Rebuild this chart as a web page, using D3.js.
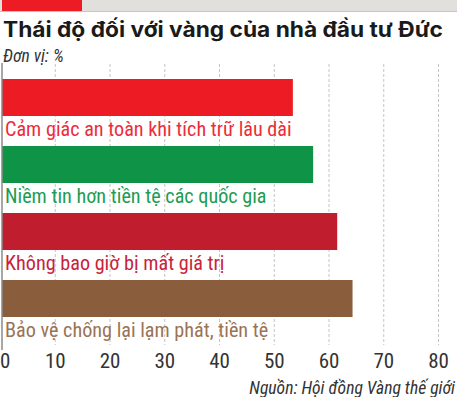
<!DOCTYPE html>
<html>
<head>
<meta charset="utf-8">
<script src="https://cdn.jsdelivr.net/npm/d3@7"></script>
<style>
  body { margin: 0; background: #fff; }
  svg { display: block; }
</style>
</head>
<body>
<svg id="chart" width="457" height="397"></svg>
<script>
// data
var categories = [
    "Cảm giác an toàn khi tích trữ lâu dài",
    "Niềm tin hơn tiền tệ các quốc gia",
    "Không bao giờ bị mất giá trị",
    "Bảo vệ chống lại lạm phát, tiền tệ"
];
var values = [53.4, 57.1, 61.5, 64.3];
var barColors = ["#ed1c24", "#0f9447", "#c01e2f", "#8a5e3c"];
var labelColors = ["#ee2c3a", "#1e9c53", "#c8233a", "#9a7356"];
var ticks = [0, 10, 20, 30, 40, 50, 60, 70, 80];

var title = "Thái độ đối với vàng của nhà đầu tư Đức",
    unit = "Đơn vị: %",
    source = "Nguồn: Hội đồng Vàng thế giới";

var narrow = "'Liberation Sans Narrow', 'Roboto Condensed', 'Liberation Sans', sans-serif";

var svg = d3.select("#chart");

// top strip
svg.append("rect").attr("x", 0).attr("y", 0).attr("width", 457).attr("height", 12).attr("fill", "#e2e0dd");
svg.append("rect").attr("x", 0).attr("y", 11).attr("width", 457).attr("height", 1).attr("fill", "#c9c6c2");
svg.append("rect").attr("x", 2).attr("y", 0).attr("width", 80).attr("height", 11).attr("fill", "#ed1c24");

svg.append("text")
    .attr("x", 3).attr("y", 37)
    .style("font-family", "Inter, Roboto, 'Liberation Sans', sans-serif")
    .style("font-weight", "bold")
    .style("font-size", "21px")
    .attr("textLength", 440)
    .attr("lengthAdjust", "spacingAndGlyphs")
    .attr("fill", "#1a1a1a")
    .text(title);

svg.append("text")
    .attr("x", 3).attr("y", 62)
    .style("font-family", narrow)
    .style("font-style", "italic")
    .style("font-size", "17.5px")
    .attr("fill", "#333")
    .text(unit);

var x = d3.scaleLinear()
    .domain([0, 80])
    .range([0.5, 438.5]);

var y = d3.scaleBand()
    .domain(categories)
    .range([79, 317])
    .paddingInner(30 / 67)
    .paddingOuter(0);

// dashed grid
svg.append("g")
    .selectAll("line")
    .data(ticks.slice(1))
    .enter().append("line")
    .attr("x1", function (d) { return x(d); })
    .attr("x2", function (d) { return x(d); })
    .attr("y1", 64)
    .attr("y2", 345)
    .attr("stroke", "#c4c4c4")
    .attr("stroke-width", 1)
    .attr("stroke-dasharray", "3,2");

var bars = svg.append("g")
    .selectAll("g.bar")
    .data(categories)
    .enter().append("g")
    .attr("class", "bar");

bars.append("rect")
    .attr("x", 2)
    .attr("y", function (d) { return y(d); })
    .attr("width", function (d, i) { return x(values[i]) - 2; })
    .attr("height", y.bandwidth())
    .attr("fill", function (d, i) { return barColors[i]; });

bars.append("text")
    .attr("x", 5)
    .attr("y", function (d) { return y(d) + y.bandwidth() + 20; })
    .style("font-family", narrow)
    .style("font-size", "20.2px")
    .attr("fill", function (d, i) { return labelColors[i]; })
    .text(function (d) { return d; });

// left axis line
svg.append("line")
    .attr("x1", 2).attr("x2", 2)
    .attr("y1", 63).attr("y2", 350)
    .attr("stroke", "#8a8a8a")
    .attr("stroke-width", 1.5);

svg.append("g")
    .selectAll("text")
    .data(ticks)
    .enter().append("text")
    .attr("x", function (d) { return d === 0 ? 0 : x(d); })
    .attr("y", 368)
    .attr("text-anchor", function (d) { return d === 0 ? "start" : "middle"; })
    .style("font-family", narrow)
    .style("font-size", "21px")
    .attr("fill", "#333")
    .text(function (d) { return d; });

svg.append("text")
    .attr("x", 455).attr("y", 394)
    .attr("text-anchor", "end")
    .style("font-family", narrow)
    .style("font-style", "italic")
    .style("font-size", "17.6px")
    .attr("fill", "#333")
    .text(source);
</script>
</body>
</html>
